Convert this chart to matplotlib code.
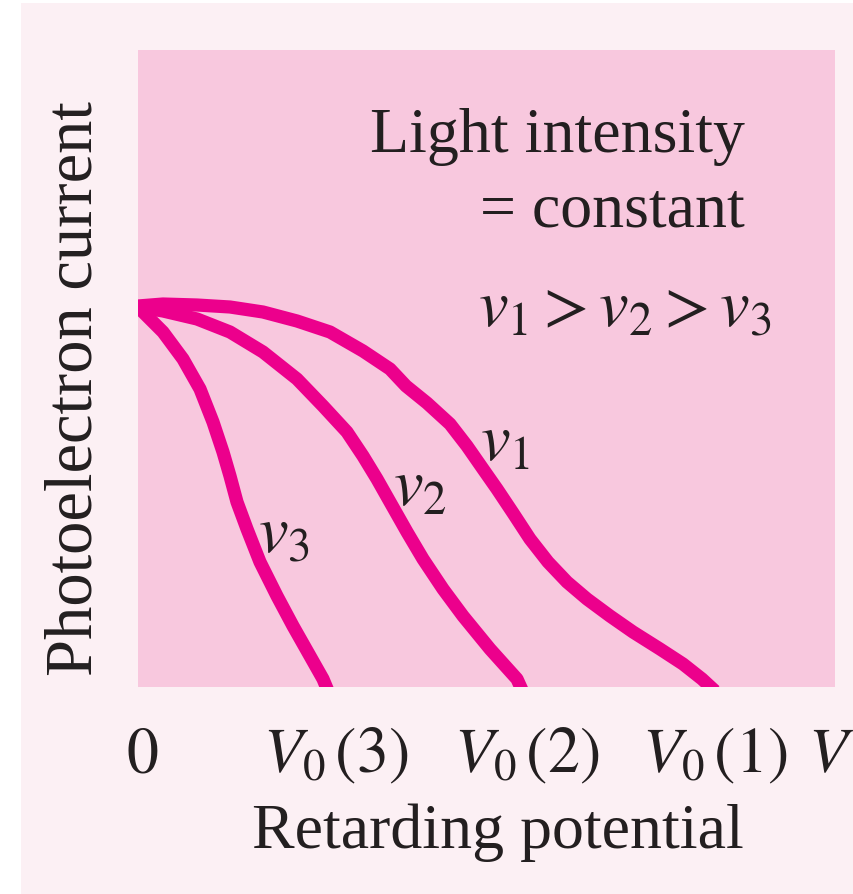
import matplotlib
matplotlib.use('Agg')
import matplotlib.pyplot as plt
from matplotlib.patches import Rectangle

# curve data (retarding potential vs photoelectron current, arbitrary units)
v3_x = [0, 5, 25, 45, 62, 75, 85, 92, 99, 109, 122, 139, 155, 172, 185, 190]
v3_y = [380, 375, 355, 328, 298, 265, 235, 211, 185, 158, 125, 91, 61, 31, 8, -4]

v2_x = [0, 25, 59, 92, 125, 159, 185, 209, 225, 239, 252, 269, 285, 305, 325, 352, 379, 384]
v2_y = [380, 376, 368, 355, 335, 308, 281, 255, 231, 208, 185, 155, 128, 98, 71, 38, 8, -3]

v1_x = [0, 25, 59, 92, 125, 159, 192, 225, 252, 268, 289, 312, 329, 345, 359, 375,
        392, 410, 429, 449, 472, 495, 522, 545, 564, 577]
v1_y = [381, 383, 382, 380, 375, 366, 355, 336, 318, 301, 284, 263, 241, 218, 198, 174,
        148, 125, 105, 88, 71, 55, 38, 23, 8, -4]

tick_pos = [4, 198, 389, 577, 693]
tick_labels = [r'$0$', r'$V_0\,(3)$', r'$V_0\,(2)$', r'$V_0\,(1)$', r'$V$']

curveColor = '#ec008c'
plotBg = '#f8c8de'
boxBg = '#fcf0f4'
textColor = '#231f20'
fs = 46

plt.rcParams['font.family'] = ['Liberation Serif', 'DejaVu Serif']
plt.rcParams['mathtext.fontset'] = 'stix'

fig = plt.figure(figsize=(8.54, 8.95), dpi=100)
fig.patch.set_facecolor('white')
# light pink panel behind everything
fig.patches.append(Rectangle((21/854, 0), (854-21)/854, (895-4)/895,
                             transform=fig.transFigure, facecolor=boxBg,
                             edgecolor='none', zorder=-10))

ax = fig.add_axes([138/854, 1-688/895, (835-138)/854, (688-51)/895])
ax.set_facecolor(plotBg)
ax.set_xlim(0, 697)
ax.set_ylim(0, 637)

for xs, ys in [(v3_x, v3_y), (v2_x, v2_y), (v1_x, v1_y)]:
    ax.plot(xs, ys, color=curveColor, linewidth=9.5,
            solid_joinstyle='round', solid_capstyle='butt')

for s in ax.spines.values():
    s.set_visible(False)
ax.set_yticks([])
ax.set_xticks(tick_pos)
ax.set_xticklabels(tick_labels, fontsize=fs, color=textColor)
ax.tick_params(axis='x', length=0, pad=61)
for lbl in ax.get_xticklabels():
    lbl.set_va('baseline')

ax.set_xlabel('Retarding potential', fontsize=fs, color=textColor)
ax.xaxis.label.set_va('baseline')
ax.xaxis.set_label_coords((498-138)/697, -(848-688)/637)

ax.set_ylabel('Photoelectron current', fontsize=48, color=textColor)
ax.yaxis.label.set_va('baseline')
ax.yaxis.set_label_coords((92-138)/697, (688-389)/637)

ax.text(607, 536, 'Light intensity', fontsize=fs, color=textColor,
        ha='right', va='baseline')
ax.text(607, 461, '= constant', fontsize=fs, color=textColor,
        ha='right', va='baseline')
ax.text(340, 361, r'$v_1 > v_2 > v_3$', fontsize=48, color=textColor,
        ha='left', va='baseline')

# curve labels
ax.text(342, 228, r'$v_1$', fontsize=48, color=textColor, va='baseline')
ax.text(255, 183, r'$v_2$', fontsize=48, color=textColor, va='baseline')
ax.text(120, 135, r'$v_3$', fontsize=48, color=textColor, va='baseline')

fig.savefig('out.png', dpi=100)
